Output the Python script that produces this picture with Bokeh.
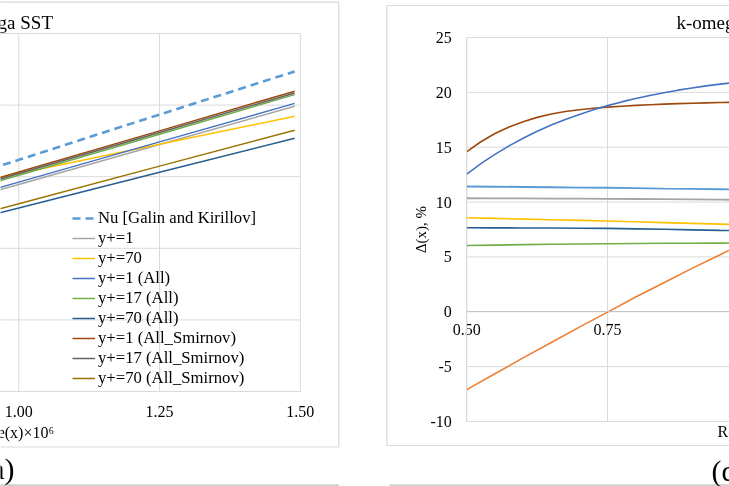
import math
from bokeh.plotting import figure
from bokeh.models import (Range1d, LinearAxis, FixedTicker, Label, Legend,
                          LegendItem, PrintfTickFormatter)
from bokeh.embed import file_html
from bokeh.resources import INLINE

# ---------------- data: panel (a)  Nu vs Re(x)x10^6 ----------------
re_a = [0.95, 1.00, 1.25, 1.49]
nu_galin = [1555, 1618, 1934, 2235]
nu_yp1 = [1390, 1446, 1725, 1992]
nu_yp70 = [1482, 1522, 1727, 1922]
nu_yp1_all = [1406, 1462, 1743, 2012]
nu_yp17_all = [1452, 1510, 1797, 2073]
nu_yp70_all = [1232, 1281, 1531, 1769]
nu_yp1_smirnov = [1476, 1533, 1820, 2097]
nu_yp17_smirnov = [1464, 1522, 1809, 2084]
nu_yp70_smirnov = [1259, 1311, 1574, 1825]
a_x_ticks = [0.50, 0.75, 1.00, 1.25, 1.50]
a_y_ticks = [0, 500, 1000, 1500, 2000, 2500]
a_labels = ["Nu [Galin and Kirillov]", "y+=1", "y+=70", "y+=1 (All)",
            "y+=17 (All)", "y+=70 (All)", "y+=1 (All_Smirnov)",
            "y+=17 (All_Smirnov)", "y+=70 (All_Smirnov)"]

# ---------------- data: panel (d)  Delta(x), % vs Re(x)x10^6 ----------------
re_d_fine = [0.500, 0.525, 0.550, 0.575, 0.600, 0.625, 0.650, 0.675, 0.700, 0.725,
             0.750, 0.775, 0.800, 0.825, 0.850, 0.875, 0.900, 0.925, 0.950, 0.975, 1.000]
d_blue = [12.55, 13.50, 14.35, 15.12, 15.82, 16.45, 17.02, 17.53, 17.99, 18.41,
          18.79, 19.13, 19.44, 19.72, 19.97, 20.20, 20.40, 20.59, 20.75, 20.90, 21.04]
d_brown = [14.60, 15.50, 16.25, 16.85, 17.33, 17.72, 18.02, 18.25, 18.42, 18.55,
           18.65, 18.74, 18.81, 18.87, 18.93, 18.97, 19.01, 19.04, 19.07, 19.09, 19.10]
re_d = [0.50, 0.55, 0.60, 0.65, 0.70, 0.75, 0.80, 0.85, 0.90, 0.95, 1.00]
d_lightblue = [11.42, 11.40, 11.38, 11.35, 11.32, 11.3, 11.27, 11.23, 11.2, 11.17, 11.14]
d_gray = [10.35, 10.34, 10.33, 10.32, 10.31, 10.3, 10.28, 10.26, 10.24, 10.22, 10.2]
d_yellow = [8.57, 8.51, 8.45, 8.39, 8.33, 8.27, 8.2, 8.13, 8.06, 7.99, 7.92]
d_darkblue = [7.66, 7.65, 7.64, 7.63, 7.62, 7.6, 7.56, 7.52, 7.47, 7.42, 7.38]
d_green = [6.04, 6.08, 6.12, 6.15, 6.18, 6.2, 6.22, 6.24, 6.25, 6.26, 6.27]
d_orange = [-7.1, -5.65, -4.2, -2.8, -1.4, -0.03, 1.35, 2.65, 3.95, 5.2, 6.5]
d_x_ticks = [0.50, 0.75, 1.00, 1.25, 1.50]
d_y_ticks = [-10, -5, 0, 5, 10, 15, 20, 25]

# ---------------- geometry (window pixels) ----------------
OX, OY, W, H = 0, 0, 729, 486
PXU = 563.0                      # pixels per Re unit (both panels)
A_X1, A_Y0, A_YTOP = 18.3, 391.0, 33.0      # x of 1.00, y of 0, y of 2500
D_X05, D_Y25, D_YM10 = 466.3, 37.0, 421.0   # x of 0.50, y of 25, y of -10

a_ky = (A_Y0 - A_YTOP) / 2500.0
d_ky = (D_YM10 - D_Y25) / 35.0


def a_x(px):
    return 1.0 + (px - A_X1) / PXU


def a_y(py):
    return (A_Y0 - py) / a_ky


def d_x(px):
    return 0.5 + (px - D_X05) / PXU


def d_y(py):
    return 25 - (py - D_Y25) / d_ky


p = figure(width=W, height=H, x_range=Range1d(OX, OX + W),
           y_range=Range1d(OY + H, OY), x_axis_type=None, y_axis_type=None,
           toolbar_location=None, output_backend="svg", min_border=0,
           title=None, outline_line_color=None,
           background_fill_color="white", border_fill_color="white")
p.styles = {"position": "fixed", "left": "0px", "top": "0px"}
p.xgrid.visible = False
p.ygrid.visible = False

p.extra_x_ranges = {"a": Range1d(a_x(OX), a_x(OX + W)),
                    "d": Range1d(d_x(OX), d_x(OX + W))}
p.extra_y_ranges = {"a": Range1d(a_y(OY + H), a_y(OY)),
                    "d": Range1d(d_y(OY + H), d_y(OY))}

GRID = "#D9D9D9"
SERIF = "Liberation Serif"

# chart boxes and separators (page decoration, window pixels)
p.quad(left=-10, right=338.3, top=1.7, bottom=446.5, fill_color=None,
       line_color=GRID, line_width=1.2)
p.quad(left=386.3, right=760, top=5, bottom=445, fill_color=None,
       line_color=GRID, line_width=1.2)
p.segment(x0=[-10, 389], x1=[338.3, 760], y0=[484.6, 484.6], y1=[484.6, 484.6],
          line_color="#CFCFCF", line_width=1.6)

# ---------------- panel (a) ----------------
na, ma = len(a_x_ticks), len(a_y_ticks)
p.segment(x0=a_x_ticks, x1=a_x_ticks, y0=[a_y_ticks[0]] * na, y1=[a_y_ticks[-1]] * na,
          x_range_name="a", y_range_name="a", line_color=GRID, line_width=1)
p.segment(x0=[a_x_ticks[0]] * ma, x1=[a_x_ticks[-1]] * ma, y0=a_y_ticks, y1=a_y_ticks,
          x_range_name="a", y_range_name="a", line_color=GRID, line_width=1)

a_series = [
    (nu_galin, "#5B9BD5", 2.6, "8 5"),
    (nu_yp1, "#A5A5A5", 1.5, "solid"),
    (nu_yp70, "#FFC000", 1.5, "solid"),
    (nu_yp1_all, "#4472C4", 1.5, "solid"),
    (nu_yp17_all, "#70AD47", 1.5, "solid"),
    (nu_yp70_all, "#255E91", 1.5, "solid"),
    (nu_yp1_smirnov, "#9E480E", 1.5, "solid"),
    (nu_yp17_smirnov, "#636363", 1.5, "solid"),
    (nu_yp70_smirnov, "#997300", 1.5, "solid"),
]
a_renderers = []
for ys, col, lw, dash in a_series:
    r = p.line(re_a, ys, x_range_name="a", y_range_name="a", line_color=col,
               line_width=lw, line_dash=dash)
    a_renderers.append(r)

ax_a = LinearAxis(x_range_name="a", y_range_name="a", fixed_location=0,
                  bounds=(a_x_ticks[0], a_x_ticks[-1] + 1e-6),
                  ticker=FixedTicker(ticks=a_x_ticks),
                  formatter=PrintfTickFormatter(format="%.2f"))
p.add_layout(ax_a, "below")

legend = Legend(items=[LegendItem(label=l, renderers=[r]) for l, r in zip(a_labels, a_renderers)],
                location=(72, H - (208.3 - OY) - 20 * len(a_labels)),
                glyph_width=23, glyph_height=20, label_height=20, label_standoff=3,
                spacing=0, padding=0, margin=0, border_line_color=None,
                background_fill_alpha=0, label_text_font=SERIF,
                label_text_font_size="16.7px", label_text_color="#000000")
p.add_layout(legend)

# ---------------- panel (d) ----------------
nd, md = len(d_x_ticks), len(d_y_ticks)
p.segment(x0=d_x_ticks, x1=d_x_ticks, y0=[d_y_ticks[0]] * nd, y1=[d_y_ticks[-1]] * nd,
          x_range_name="d", y_range_name="d", line_color=GRID, line_width=1)
p.segment(x0=[d_x_ticks[0]] * md, x1=[d_x_ticks[-1]] * md, y0=d_y_ticks, y1=d_y_ticks,
          x_range_name="d", y_range_name="d", line_color=GRID, line_width=1)

d_series = [
    (re_d, d_green, "#70AD47", 1.6),
    (re_d, d_darkblue, "#255E91", 1.6),
    (re_d, d_yellow, "#FFC000", 1.6),
    (re_d, d_gray, "#A5A5A5", 1.8),
    (re_d, d_lightblue, "#5B9BD5", 1.9),
    (re_d, d_orange, "#ED7D31", 1.5),
    (re_d_fine, d_brown, "#9E480E", 1.6),
    (re_d_fine, d_blue, "#4472C4", 1.6),
]
for xs, ys, col, lw in d_series:
    p.line(xs, ys, x_range_name="d", y_range_name="d", line_color=col, line_width=lw)

ax_dx = LinearAxis(x_range_name="d", y_range_name="d", fixed_location=0,
                   bounds=(d_x_ticks[0], d_x_ticks[-1] + 1e-6),
                   ticker=FixedTicker(ticks=d_x_ticks),
                   formatter=PrintfTickFormatter(format="%.2f"))
p.add_layout(ax_dx, "below")
ax_dy = LinearAxis(x_range_name="d", y_range_name="d", fixed_location=d_x_ticks[0],
                   bounds=(d_y_ticks[0], d_y_ticks[-1]),
                   ticker=FixedTicker(ticks=d_y_ticks),
                   formatter=PrintfTickFormatter(format="%d"))
p.add_layout(ax_dy, "left")

for ax, standoff, lc in ((ax_a, 8, GRID), (ax_dx, 6, "#C4C4C4"), (ax_dy, 9, GRID)):
    ax.axis_line_color = lc
    ax.major_tick_line_color = None
    ax.minor_tick_line_color = None
    ax.major_label_standoff = standoff
    ax.major_label_text_font = SERIF
    ax.major_label_text_font_size = "16px"
    ax.major_label_text_color = "#000000"

# ---------------- texts ----------------
texts = [
    # (text, x, y, align, baseline, size, angle)
    ("k-omega SST", 52.5, 21.5, "right", "middle", "19px", 0),
    ("Re(x)×10⁶", 53.5, 431.5, "right", "middle", "16px", 0),
    ("(a)", 14.0, 468.0, "right", "middle", "30px", 0),
    ("k-omega SST", 676.0, 21.5, "left", "middle", "19px", 0),
    ("Re(x)×10⁶", 717.0, 430.5, "left", "middle", "16px", 0),
    ("(d)", 711.0, 470.0, "left", "middle", "30px", 0),
    ("Δ(x), %", 420.0, 229.0, "center", "middle", "15px", math.pi / 2),
]
for t, x, y, al, bl, sz, ang in texts:
    p.add_layout(Label(x=x, y=y, text=t, text_align=al, text_baseline=bl,
                       text_font=SERIF, text_font_size=sz, text_color="#000000",
                       angle=ang))

open("out.html", "w").write(file_html(p, INLINE))
